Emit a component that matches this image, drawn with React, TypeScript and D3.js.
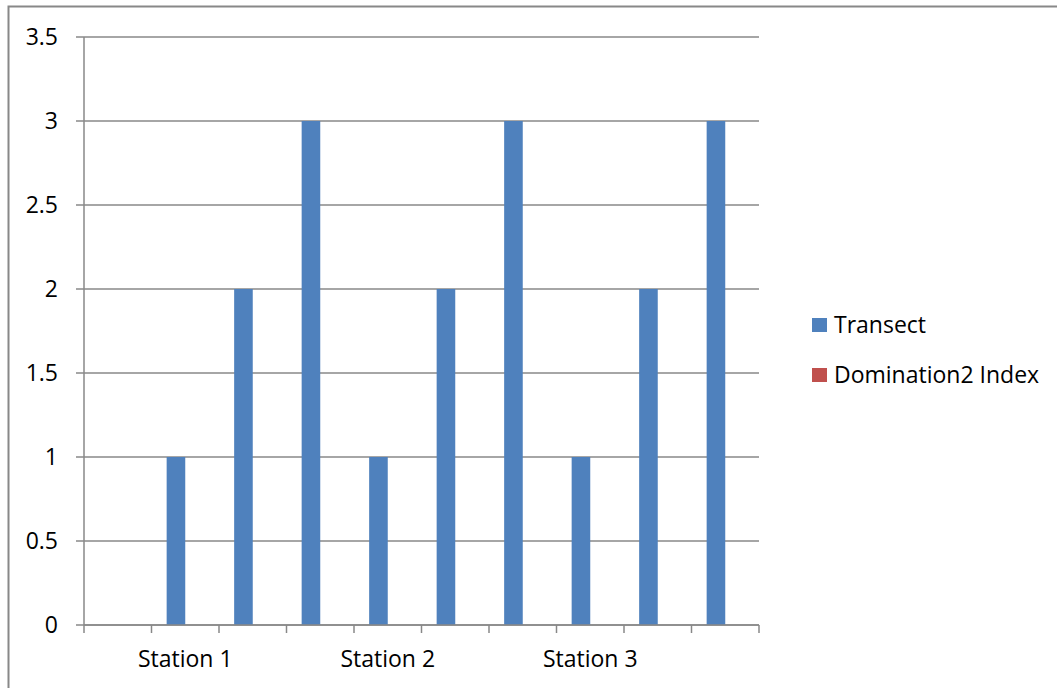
import React from 'react';
import * as d3 from 'd3';

// categories on the x axis (Excel skips some labels)
const categories = ['', 'Station 1', '', '', 'Station 2', '', '', 'Station 3', '', ''];
const transect = [0, 1, 2, 3, 1, 2, 3, 1, 2, 3];
const domination2 = [0, 0, 0, 0, 0, 0, 0, 0, 0, 0];
const seriesNames = ['Transect', 'Domination2 Index'];
const seriesColors = ['#4F81BD', '#C0504D'];
const yTicks = [0, 0.5, 1, 1.5, 2, 2.5, 3, 3.5];

const W = 1057;
const H = 688;
const FONT = '"Open Sans", sans-serif';

const App = () => {
  const left = 84, right = 759, top = 37, bottom = 625;

  const x = d3.scaleBand<number>()
    .domain(d3.range(categories.length))
    .range([left, right]);

  const y = d3.scaleLinear().domain([0, 3.5]).range([bottom, top]);

  const barW = 18.6;
  const series = [transect, domination2];

  return (
    <svg width={W} height={H} style={{ position: 'absolute', left: 0, top: 0 }}>
      <rect x={0} y={0} width={W} height={H} fill="#fff" />
      {/* chart frame */}
      <rect x={8.5} y={6.5} width={W + 20} height={H + 20} fill="none" stroke="#888" strokeWidth={2} />

      {/* gridlines */}
      {yTicks.map(t => (
        <line key={t} x1={left - 8} x2={right} y1={y(t)} y2={y(t)} stroke="#888" strokeWidth={1.5} />
      ))}
      {yTicks.map(t => (
        <text key={'l' + t} x={58} y={y(t)} dy="0.36em" textAnchor="end"
          fontFamily={FONT} fontSize={23} fill="#000">{t}</text>
      ))}

      {/* bars */}
      {series.map((s, si) => s.map((v, i) => {
        const cx = x(i)! + x.bandwidth() / 2;
        const bx = cx - barW + si * barW;
        return v > 0 ? (
          <rect key={si + '-' + i} x={bx} y={y(v)} width={barW} height={y(0) - y(v)} fill={seriesColors[si]} />
        ) : null;
      }))}

      {/* axes */}
      <line x1={left} x2={left} y1={top} y2={bottom} stroke="#888" strokeWidth={1.5} />
      <line x1={left} x2={right} y1={bottom} y2={bottom} stroke="#888" strokeWidth={1.5} />
      {d3.range(categories.length + 1).map(i => {
        const tx = left + i * x.step();
        return <line key={'t' + i} x1={tx} x2={tx} y1={bottom} y2={bottom + 8} stroke="#888" strokeWidth={1.5} />;
      })}
      {categories.map((c, i) => c ? (
        <text key={'c' + i} x={x(i)! + x.bandwidth() / 2} y={667} textAnchor="middle"
          fontFamily={FONT} fontSize={23} fill="#000">{c}</text>
      ) : null)}

      {/* legend */}
      {seriesNames.map((n, i) => (
        <g key={n} transform={`translate(812, ${318 + i * 50})`}>
          <rect x={0} y={0} width={15} height={14} fill={seriesColors[i]} />
          <text x={22} y={7} dy="0.36em" fontFamily={FONT} fontSize={23} fill="#000">{n}</text>
        </g>
      ))}
    </svg>
  );
};

export default App;
